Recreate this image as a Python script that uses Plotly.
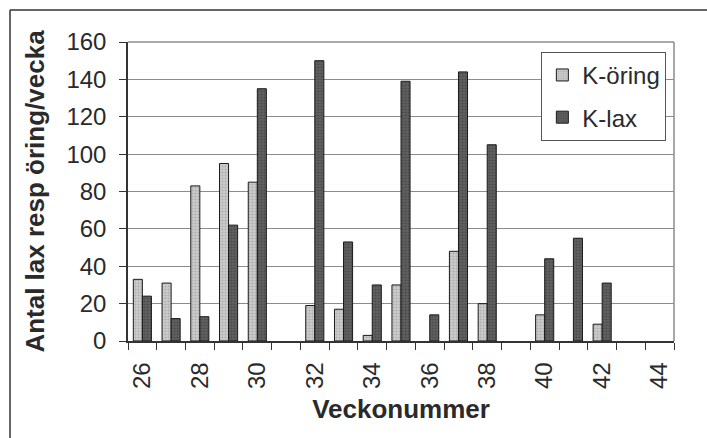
import plotly.graph_objects as go

# Weekly counts per week number (None = nothing caught that week)
weeks = list(range(26, 45))
k_oring = [33, 31, 83, 95, 85, None, 19, 17, 3, 30, None, 48, 20, None, 14, None, 9, None, None]
k_lax = [24, 12, 13, 62, 135, None, 150, 53, 30, 139, 14, 144, 105, None, 44, 55, 31, None, None]
x_ticks = list(range(26, 45, 2))
y_ticks = list(range(0, 161, 20))

FONT = "Liberation Sans, Arial, sans-serif"
INK = "#2a2a2a"

fig = go.Figure()
fig.add_trace(go.Bar(
    x=weeks, y=k_oring, name="K-öring", legendgroup="a",
    marker=dict(
        color="#c8c8c8",
        line=dict(color="#1a1a1a", width=1),
        pattern=dict(shape=".", bgcolor="#cdcdcd", fgcolor="#8e8e8e",
                     size=3, solidity=0.4),
    ),
))
fig.add_trace(go.Bar(
    x=weeks, y=k_lax, name="K-lax", legendgroup="b",
    marker=dict(
        color="#585858",
        line=dict(color="#1a1a1a", width=1),
        pattern=dict(shape=".", bgcolor="#616161", fgcolor="#333333",
                     size=3, solidity=0.4),
    ),
))

fig.update_layout(
    width=707, height=438,
    margin=dict(l=128, r=33, t=42, b=97),
    paper_bgcolor="white", plot_bgcolor="white",
    font=dict(family=FONT, color=INK),
    barmode="group", bargap=0.37, bargroupgap=0,
    showlegend=True,
    legend=dict(
        x=0.986, y=0.967, xanchor="right", yanchor="top",
        bgcolor="white", bordercolor="#555555", borderwidth=1,
        font=dict(size=24, family=FONT, color=INK),
        tracegroupgap=8, itemwidth=30,
    ),
    xaxis=dict(
        range=[25.5, 44.5],
        tickmode="array", tickvals=x_ticks, ticktext=[str(v) for v in x_ticks],
        tickangle=-90, ticks="outside", ticklen=10, tickcolor="rgba(0,0,0,0)",
        tickfont=dict(size=24, family=FONT, color=INK),
        minor=dict(tickmode="array", tickvals=[w + 0.5 for w in range(25, 45)],
                   ticks="outside", ticklen=7, tickcolor="#333333", tickwidth=1),
        showline=True, linecolor="#333333", linewidth=1.5,
        mirror=False, showgrid=False, zeroline=False,
        title=dict(text="<b>Veckonummer</b>", standoff=12,
                   font=dict(size=26, family=FONT, color=INK)),
    ),
    yaxis=dict(
        range=[0, 160],
        tickmode="array", tickvals=y_ticks,
        ticks="outside", ticklen=7, tickcolor="#333333",
        ticklabelstandoff=8,
        tickfont=dict(size=24, family=FONT, color=INK),
        showline=True, linecolor="#333333", linewidth=1.5,
        showgrid=True, gridcolor="#8c8c8c", gridwidth=1,
        zeroline=False,
        title=dict(text="<b>Antal lax resp öring/vecka</b>", standoff=14,
                   font=dict(size=26, family=FONT, color=INK)),
    ),
    shapes=[
        # plot-area frame on top and right
        dict(type="line", xref="paper", yref="paper", x0=0, x1=1, y0=1, y1=1,
             line=dict(color="#8c8c8c", width=1.5)),
        dict(type="line", xref="paper", yref="paper", x0=1, x1=1, y0=0, y1=1,
             line=dict(color="#8c8c8c", width=1.5)),
        # outer chart frame (top and left edges)
        dict(type="line", xref="paper", yref="paper",
             x0=-118 / 546, x1=1.2, y0=1 + 32 / 299, y1=1 + 32 / 299,
             line=dict(color="#333333", width=1.5)),
        dict(type="line", xref="paper", yref="paper",
             x0=-118 / 546, x1=-118 / 546, y0=-0.4, y1=1 + 32 / 299,
             line=dict(color="#333333", width=1.5)),
    ],
)

fig.write_html("out.html")
